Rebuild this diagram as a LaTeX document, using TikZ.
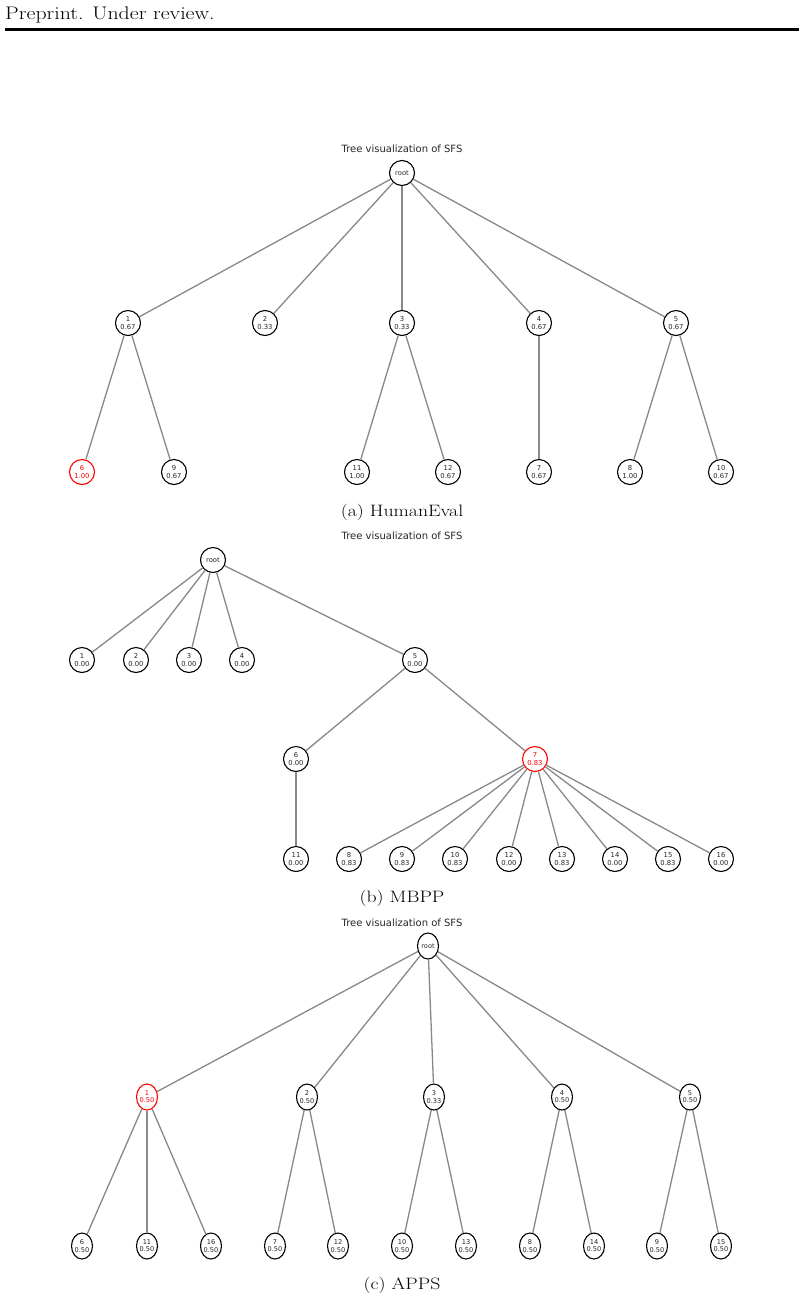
\documentclass[tikz,border=0pt]{standalone}
\usepackage{fontspec}
\usetikzlibrary{shapes.geometric}
\newfontfamily\dejavu{DejaVu Sans}
\newfontfamily\serifw[FakeStretch=1.2]{Latin Modern Roman}
\definecolor{edgegray}{HTML}{888888}
\definecolor{hl}{HTML}{FF0000}
\tikzset{
  tn/.style={circle,draw=black,line width=1.1pt,fill=white,minimum size=25pt,inner sep=0pt,
    align=center,font=\dejavu\fontsize{6.8}{7.2}\selectfont,text=black!85},
  te/.style={ellipse,draw=black,line width=1.1pt,fill=white,minimum width=21pt,minimum height=26pt,inner sep=0pt,
    align=center,font=\dejavu\fontsize{6.6}{7.2}\selectfont,text=black!85},
  hlnode/.style={draw=hl,text=hl},
  ed/.style={draw=edgegray,line width=1.3pt},
  ttl/.style={font=\dejavu\fontsize{10}{11}\selectfont,text=black!85},
  captxt/.style={font=\serifw\fontsize{16.5}{19}\selectfont}
}
\begin{document}
\begin{tikzpicture}[x=1pt,y=-1pt]
\useasboundingbox (0,0) rectangle (804,1302);
% header
\node[anchor=base west,inner sep=0pt,font=\serifw\fontsize{18.2}{20}\selectfont] (hdr) at (5,19) {Preprint. Under review.};
\fill (5,27.5) rectangle (799,30.5);

% ---------- (a) HumanEval ----------
\node[ttl] (ta) at (402,149) {Tree visualization of SFS};
\node[tn] (aR) at (402,173) {root};
\node[tn] (a1) at (128,323) {1\\0.67};
\node[tn] (a2) at (265,323) {2\\0.33};
\node[tn] (a3) at (402,323) {3\\0.33};
\node[tn] (a4) at (539,323) {4\\0.67};
\node[tn] (a5) at (676,323) {5\\0.67};
\node[tn,hlnode] (a6) at (82,472) {6\\1.00};
\node[tn] (a9) at (174,472) {9\\0.67};
\node[tn] (a11) at (357,472) {11\\1.00};
\node[tn] (a12) at (448,472) {12\\0.67};
\node[tn] (a7) at (539,472) {7\\0.67};
\node[tn] (a8) at (630,472) {8\\1.00};
\node[tn] (a10) at (721,472) {10\\0.67};
\foreach \a/\b in {aR/a1,aR/a2,aR/a3,aR/a4,aR/a5,a1/a6,a1/a9,a3/a11,a3/a12,a4/a7,a5/a8,a5/a10}
  \draw[ed] (\a) -- (\b);
\node[captxt] (ca) at (402,512) {(a) HumanEval};

% ---------- (b) MBPP ----------
\node[ttl] (tb) at (402,536) {Tree visualization of SFS};
\node[tn] (bR) at (213,560) {root};
\node[tn] (b1) at (82,660) {1\\0.00};
\node[tn] (b2) at (136,660) {2\\0.00};
\node[tn] (b3) at (189,660) {3\\0.00};
\node[tn] (b4) at (242,660) {4\\0.00};
\node[tn] (b5) at (415,660) {5\\0.00};
\node[tn] (b6) at (296,759) {6\\0.00};
\node[tn,hlnode] (b7) at (535,759) {7\\0.83};
\node[tn] (b11) at (296,859) {11\\0.00};
\node[tn] (b8) at (349,859) {8\\0.83};
\node[tn] (b9) at (402,859) {9\\0.83};
\node[tn] (b10) at (455,859) {10\\0.83};
\node[tn] (b12) at (509,859) {12\\0.00};
\node[tn] (b13) at (562,859) {13\\0.83};
\node[tn] (b14) at (615,859) {14\\0.00};
\node[tn] (b15) at (668,859) {15\\0.83};
\node[tn] (b16) at (721,859) {16\\0.00};
\foreach \a/\b in {bR/b1,bR/b2,bR/b3,bR/b4,bR/b5,b5/b6,b5/b7,b6/b11,b7/b8,b7/b9,b7/b10,b7/b12,b7/b13,b7/b14,b7/b15,b7/b16}
  \draw[ed] (\a) -- (\b);
\node[captxt] (cb) at (402,898) {(b) MBPP};

% ---------- (c) APPS ----------
\node[ttl] (tc) at (402,923) {Tree visualization of SFS};
\node[te] (cR) at (428,946) {root};
\node[te,hlnode] (c1) at (147,1097) {1\\0.50};
\node[te] (c2) at (307,1097) {2\\0.50};
\node[te] (c3) at (434,1097) {3\\0.33};
\node[te] (c4) at (562,1097) {4\\0.50};
\node[te] (c5) at (690,1097) {5\\0.50};
\node[te] (c6) at (82,1246) {6\\0.50};
\node[te] (c11) at (147,1246) {11\\0.50};
\node[te] (c16) at (211,1246) {16\\0.50};
\node[te] (c7) at (275,1246) {7\\0.50};
\node[te] (c12) at (338,1246) {12\\0.50};
\node[te] (c10) at (402,1246) {10\\0.50};
\node[te] (c13) at (466,1246) {13\\0.50};
\node[te] (c8) at (530,1246) {8\\0.50};
\node[te] (c14) at (594,1246) {14\\0.50};
\node[te] (c9) at (657,1246) {9\\0.50};
\node[te] (c15) at (721,1246) {15\\0.50};
\foreach \a/\b in {cR/c1,cR/c2,cR/c3,cR/c4,cR/c5,c1/c6,c1/c11,c1/c16,c2/c7,c2/c12,c3/c10,c3/c13,c4/c8,c4/c14,c5/c9,c5/c15}
  \draw[ed] (\a) -- (\b);
\node[captxt] (cc) at (402,1285) {(c) APPS};
\end{tikzpicture}
\end{document}
